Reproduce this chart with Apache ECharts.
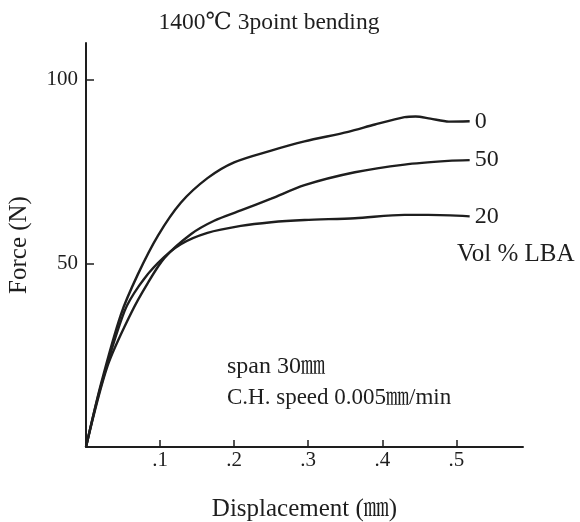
<!DOCTYPE html>
<html>
<head>
<meta charset="utf-8">
<script src="https://cdn.jsdelivr.net/npm/echarts@6/dist/echarts.min.js"></script>
<style>
html,body{margin:0;padding:0;background:#fff;}
#c{width:580px;height:522px;}
</style>
</head>
<body>
<div id="c"></div>
<script>
// ---- data (displacement mm, force N) ----
const vol0 = [[0,0],[0.02,17],[0.047,36],[0.07,47],[0.097,57.5],[0.128,66.5],[0.164,73.2],[0.2,77.5],[0.25,80.7],[0.295,83.2],[0.354,85.8],[0.39,87.8],[0.43,89.8],[0.445,90],[0.465,89.4],[0.49,88.6],[0.518,88.7]];
const vol50 = [[0,0],[0.029,22],[0.061,36.5],[0.083,44.5],[0.106,51.5],[0.142,58],[0.173,61.6],[0.209,64.4],[0.25,67.6],[0.295,71.3],[0.363,74.8],[0.43,76.9],[0.489,77.9],[0.518,78.1]];
const vol20 = [[0,0],[0.02,16.5],[0.052,37],[0.072,44],[0.097,50.1],[0.128,55.2],[0.164,58.3],[0.209,60.2],[0.25,61.2],[0.295,61.8],[0.363,62.3],[0.43,63.2],[0.462,63.2],[0.518,62.8]];
const seriesNames = ['0','50','20'];
const xTickValues = [0.1,0.2,0.3,0.4,0.5];
const xTickLabels = ['.1','.2','.3','.4','.5'];
const yTickValues = [50,100];
const yTickLabels = ['50','100'];

const serif = '"Liberation Serif","DejaVu Serif","Noto Serif CJK JP",serif';
const ink = '#1e1e1e';
const chart = echarts.init(document.getElementById('c'));
function mkSeries(name, data){
  return {
    name, type:'line', data, smooth:0.3, symbol:'none',
    lineStyle:{color:ink,width:2.4},
    endLabel:{show:true,formatter:name,color:ink,fontFamily:serif,fontSize:24,distance:5},
    z:3
  };
}
function txt(x,y,text,size,align){
  return {type:'text',x,y,style:{text,font:size+'px '+serif,fill:ink,align:align||'left',verticalAlign:'middle'}};
}
chart.setOption({
  backgroundColor:'#fff',
  animation:false,
  grid:{left:86,right:57,top:43,bottom:75,outerBoundsMode:'none',containLabel:false},
  xAxis:{type:'value',min:0,max:0.59,
    name:'Displacement (㎜)',nameLocation:'middle',nameGap:50,
    nameTextStyle:{fontFamily:serif,fontSize:25,color:ink},
    axisLine:{show:true,lineStyle:{color:ink,width:2}},
    axisTick:{show:true,inside:true,length:7,customValues:xTickValues,lineStyle:{color:ink,width:1.5}},
    axisLabel:{customValues:xTickValues,fontFamily:serif,fontSize:21,color:ink,margin:3,
      formatter:v=>xTickLabels[xTickValues.findIndex(t=>Math.abs(t-v)<1e-9)]||''},
    splitLine:{show:false}},
  yAxis:{type:'value',min:0,max:110,
    name:'Force (N)',nameLocation:'middle',nameGap:54,nameRotate:90,
    nameTextStyle:{fontFamily:serif,fontSize:25,color:ink},
    axisLine:{show:true,lineStyle:{color:ink,width:2}},
    axisTick:{show:true,inside:true,length:8,customValues:yTickValues,lineStyle:{color:ink,width:1.5}},
    axisLabel:{customValues:yTickValues,fontFamily:serif,fontSize:21,color:ink,margin:8,
      formatter:v=>yTickLabels[yTickValues.indexOf(v)]||''},
    splitLine:{show:false}},
  graphic:[
    txt(269,23,'1400℃ 3point bending',23.5,'center'),
    txt(457,254,'Vol % LBA',25),
    txt(227,367,'span 30㎜',24),
    txt(227,398,'C.H. speed 0.005㎜/min',23)
  ],
  series:[mkSeries(seriesNames[0],vol0),mkSeries(seriesNames[1],vol50),mkSeries(seriesNames[2],vol20)]
});
</script>
</body>
</html>
